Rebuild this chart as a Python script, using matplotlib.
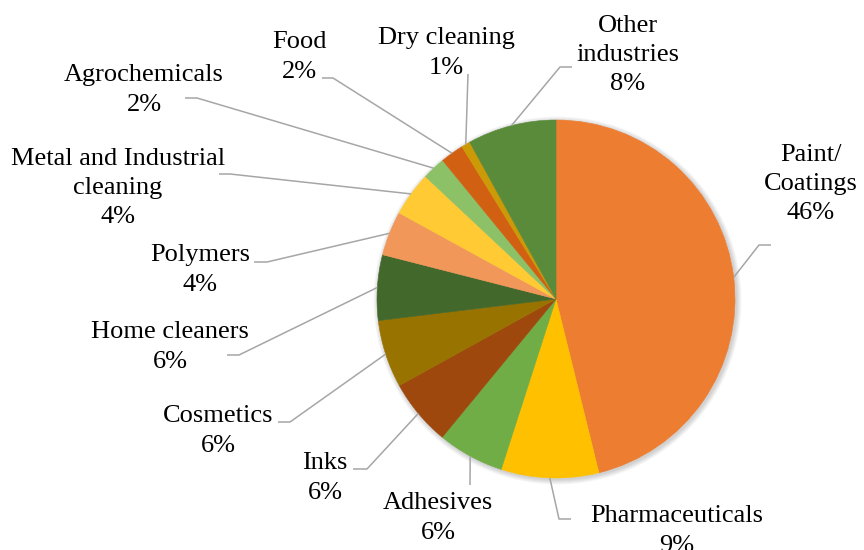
import numpy as np
import matplotlib
matplotlib.use("Agg")
import matplotlib.pyplot as plt
from matplotlib.patches import Circle

# slice data, clockwise from 12 o'clock
categories = ["Paint/\nCoatings", "Pharmaceuticals", "Adhesives", "Inks",
              "Cosmetics", "Home cleaners", "Polymers",
              "Metal and Industrial\ncleaning", "Agrochemicals", "Food",
              "Dry cleaning", "Other\nindustries"]
shares = [46.1, 8.8, 6.0, 6.0, 6.1, 5.9, 4.0, 4.0, 2.1, 2.1, 0.8, 8.0]
colors = ["#ED7D31", "#FFC000", "#70AD47", "#9E480E", "#997300", "#43682B",
          "#F1975A", "#FFCA33", "#8CC168", "#D26012", "#CC9A06", "#598B3B"]

W, H = 864, 550
CX, CY, R = 556, 299, 179  # pie centre / radius in pixels (y from top)

# label block centre and leader points (pixels, y from top), listed from
# the point nearest the pie outward to the end beside the text
label_pos = [(811, 184), (677, 531), (438, 518), (325, 478), (218, 431),
             (170, 347), (200, 270), (118, 188), (144, 90), (299, 57),
             (446, 53), (628, 55)]
leaders = [[(759, 245), (771, 245)], [(559, 519), (571, 519)],
           [(470, 485)], [(367, 469), (353, 469)], [(290, 422), (278, 422)],
           [(239, 355), (227, 355)], [(267, 262), (254, 262)],
           [(230, 174), (219, 174)], [(197, 98), (185, 98)],
           [(333, 78), (322, 78)], [(468, 74)], [(560, 67), (572, 67)]]

plt.rcParams["font.family"] = ["Liberation Serif", "DejaVu Serif"]

fig = plt.figure(figsize=(W / 100, H / 100), dpi=100)
ax = fig.add_axes([0, 0, 1, 1])

# soft outer shadow
for i in range(6):
    ax.add_patch(Circle((CX + 1.5, H - CY - 1.5), R + 0.5 + i * 0.9,
                        facecolor="#000000", alpha=0.03, lw=0, zorder=0))

wedges, _ = ax.pie(shares, colors=colors, startangle=90, counterclock=False,
                   center=(CX, H - CY), radius=R,
                   wedgeprops=dict(linewidth=0.4))
for w in wedges:
    w.set_edgecolor(w.get_facecolor())

total = sum(shares)
for w, name, v, (lx, ly), pts in zip(wedges, categories, shares,
                                     label_pos, leaders):
    mid = np.deg2rad((w.theta1 + w.theta2) / 2)
    xs = [CX + R * np.cos(mid)] + [p[0] for p in pts]
    ys = [H - CY + R * np.sin(mid)] + [H - p[1] for p in pts]
    ax.plot(xs, ys, color="#A6A6A6", lw=1.1, zorder=1,
            solid_capstyle="butt")
    ax.text(lx, H - ly, f"{name}\n{round(v / total * 100)}%",
            ha="center", va="center", fontsize=19, linespacing=1.42,
            color="#000000")

ax.set_xlim(0, W)
ax.set_ylim(0, H)
ax.set_aspect("equal")
ax.axis("off")
fig.savefig("out.png", dpi=100, facecolor="white")
